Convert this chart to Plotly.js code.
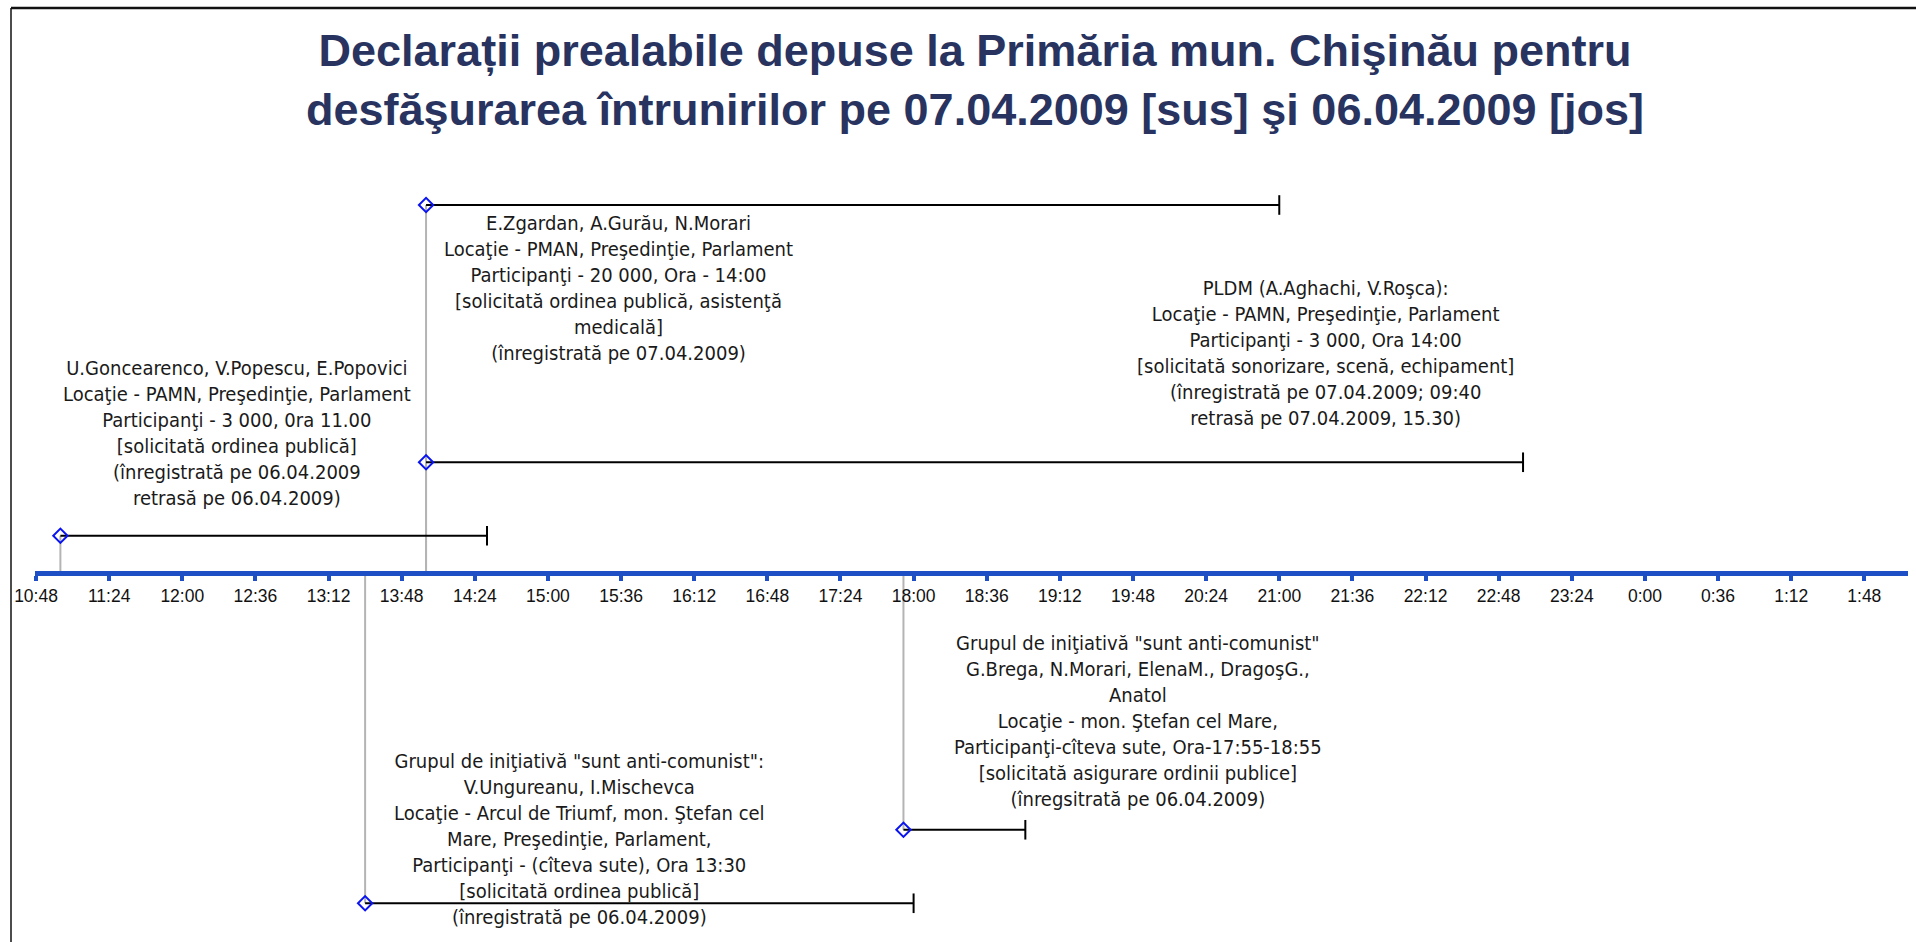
<!DOCTYPE html>
<html>
<head>
<meta charset="utf-8">
<script src="https://cdn.plot.ly/plotly-3.0.1.min.js"></script>
<style>
html,body{margin:0;padding:0;background:#fff;}
#chart{width:1916px;height:942px;}
</style>
</head>
<body>
<div id="chart"></div>
<script>
// ---------------- DATA ----------------
const eventIds   = ['Goncearenco', 'Zgardan', 'PLDM', 'Ungureanu', 'Brega'];
const startTimes = ['11:00', '14:00', '14:00', '13:30', '17:55'];
const endTimes   = ['14:30', '21:00', '23:00', '18:00', '18:55'];
const levels     = [1, 10, 3, -9, -7];   // height above (+) / below (-) the time axis
const eventTexts = [
  'U.Goncearenco, V.Popescu, E.Popovici<br>Locaţie - PAMN, Preşedinţie, Parlament<br>Participanţi - 3 000, 0ra 11.00<br>[solicitată ordinea publică]<br>(înregistrată pe 06.04.2009<br>retrasă pe 06.04.2009)',
  'E.Zgardan, A.Gurău, N.Morari<br>Locaţie - PMAN, Preşedinţie, Parlament<br>Participanţi - 20 000, Ora - 14:00<br>[solicitată ordinea publică, asistenţă<br>medicală]<br>(înregistrată pe 07.04.2009)',
  'PLDM (A.Aghachi, V.Roşca):<br>Locaţie - PAMN, Preşedinţie, Parlament<br>Participanţi - 3 000, Ora 14:00<br>[solicitată sonorizare, scenă, echipament]<br>(înregistrată pe 07.04.2009; 09:40<br>retrasă pe 07.04.2009, 15.30)',
  'Grupul de iniţiativă "sunt anti-comunist":<br>V.Ungureanu, I.Mischevca<br>Locaţie - Arcul de Triumf, mon. Ştefan cel<br>Mare, Preşedinţie, Parlament,<br>Participanţi - (cîteva sute), Ora 13:30<br>[solicitată ordinea publică]<br>(înregistrată pe 06.04.2009)',
  'Grupul de iniţiativă "sunt anti-comunist"<br>G.Brega, N.Morari, ElenaM., DragoşG.,<br>Anatol<br>Locaţie - mon. Ştefan cel Mare,<br>Participanţi-cîteva sute, Ora-17:55-18:55<br>[solicitată asigurare ordinii publice]<br>(înregsitrată pe 06.04.2009)'
];
const tickLabels = ['10:48','11:24','12:00','12:36','13:12','13:48','14:24','15:00','15:36','16:12','16:48','17:24','18:00','18:36','19:12','19:48','20:24','21:00','21:36','22:12','22:48','23:24','0:00','0:36','1:12','1:48'];
const titleText = 'Declarații prealabile depuse la Primăria mun. Chişinău pentru<br>desfăşurarea întrunirilor pe 07.04.2009 [sus] şi 06.04.2009 [jos]';

// ---------------- HELPERS ----------------
function toDate(t){
  const p = t.split(':').map(Number);
  const day = p[0] < 6 ? '2009-04-08' : '2009-04-07';
  return day + ' ' + String(p[0]).padStart(2,'0') + ':' + String(p[1]).padStart(2,'0') + ':00';
}
const W = 1916, H = 942;
const M = {l:35, r:8, t:0, b:0};
const yRange = [-10.054, 15.578];
const xRange = ['2009-04-07 10:47:30', '2009-04-08 02:09:30'];
const px2paperX = px => (px - M.l) / (W - M.l - M.r);
const px2paperY = py => (H - M.b - py) / (H - M.t - M.b);

// label placement (layout only)
const labelPos = [[237,433],[618,288],[1325,353],[579,839],[1138,721]];

const BLUE = '#1f4fc4';
const traces = [];

// grey connectors from the axis to each start
eventIds.forEach((id,i)=>{
  traces.push({type:'scatter', mode:'lines', x:[toDate(startTimes[i]), toDate(startTimes[i])], y:[0, levels[i]],
    line:{color:'#b4b4b4', width:2}, hoverinfo:'skip', showlegend:false});
});
// duration bars
eventIds.forEach((id,i)=>{
  traces.push({type:'scatter', mode:'lines', x:[toDate(startTimes[i]), toDate(endTimes[i])], y:[levels[i], levels[i]],
    line:{color:'#000', width:2}, name:id, showlegend:false});
});
// end caps
traces.push({type:'scatter', mode:'markers', x:endTimes.map(toDate), y:levels,
  marker:{symbol:'line-ns-open', size:14, color:'#000', line:{color:'#000', width:2}}, showlegend:false, hoverinfo:'skip'});
// start diamonds
traces.push({type:'scatter', mode:'markers', x:startTimes.map(toDate), y:levels,
  marker:{symbol:'diamond-open', size:11, color:'#0a14f0', line:{color:'#0a14f0', width:2}}, showlegend:false, hoverinfo:'skip'});

const annFont = {family:'DejaVu Sans Condensed, Liberation Sans, Arial, sans-serif', size:20, color:'#1a1a1a'};
const annotations = eventTexts.map((t,i)=>({
  text:t, xref:'paper', yref:'paper', x:px2paperX(labelPos[i][0]), y:px2paperY(labelPos[i][1]),
  xanchor:'center', yanchor:'middle', align:'center', showarrow:false, font:annFont
}));

const layout = {
  width:W, height:H, margin:M, paper_bgcolor:'#fff', plot_bgcolor:'#fff', showlegend:false,
  title:{text:titleText, xref:'container', yref:'container', x:975/W, xanchor:'center', y:1-66/H, yanchor:'top',
    font:{family:'Liberation Sans, Arial, sans-serif', size:45, color:'#28345f', weight:'bold'}},
  xaxis:{type:'date', range:xRange, tickvals:tickLabels.map(toDate), ticktext:tickLabels,
    showline:true, linecolor:BLUE, linewidth:5, ticks:'outside', ticklen:5, tickwidth:4, tickcolor:BLUE,
    showgrid:false, zeroline:false, anchor:'free', position:(0 - yRange[0])/(yRange[1]-yRange[0]),
    tickfont:{family:'Liberation Sans, Arial, sans-serif', size:17.5, color:'#111'}, fixedrange:true},
  yaxis:{range:yRange, visible:false, showgrid:false, zeroline:false, fixedrange:true},
  annotations:annotations,
  shapes:[
    {type:'line', xref:'paper', yref:'paper', x0:px2paperX(11), x1:px2paperX(1930), y0:px2paperY(8), y1:px2paperY(8), line:{color:'#111', width:2.5}},
    {type:'line', xref:'paper', yref:'paper', x0:px2paperX(11), x1:px2paperX(11), y0:px2paperY(8), y1:px2paperY(960), line:{color:'#111', width:1.5}}
  ]
};
Plotly.newPlot('chart', traces, layout, {displayModeBar:false, staticPlot:true});
</script>
</body>
</html>
